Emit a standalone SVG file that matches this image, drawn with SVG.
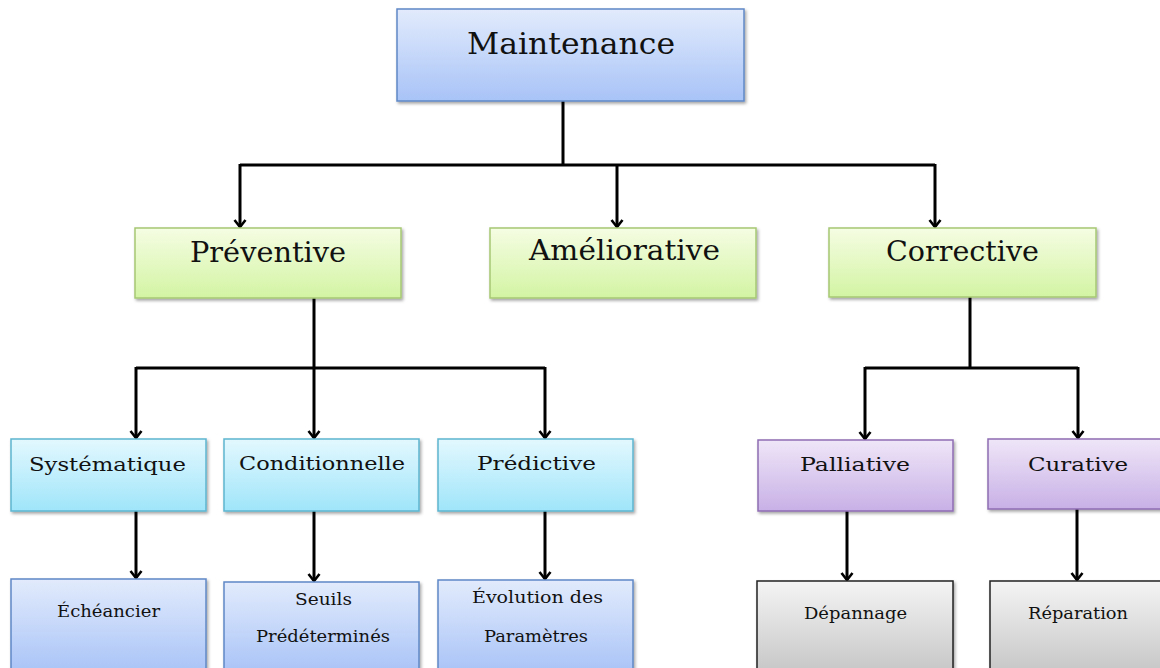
<svg xmlns="http://www.w3.org/2000/svg" width="1160" height="668" viewBox="0 0 1160 668">
<defs>
<linearGradient id="gBlue" x1="0" y1="0" x2="0" y2="1"><stop offset="0" stop-color="#e2ebfc"/><stop offset="1" stop-color="#a8c3f7"/></linearGradient>
<linearGradient id="gGreen" x1="0" y1="0" x2="0" y2="1"><stop offset="0" stop-color="#f5fde3"/><stop offset="1" stop-color="#d3f4a3"/></linearGradient>
<linearGradient id="gCyan" x1="0" y1="0" x2="0" y2="1"><stop offset="0" stop-color="#e3f8fe"/><stop offset="1" stop-color="#9fe5fa"/></linearGradient>
<linearGradient id="gPurple" x1="0" y1="0" x2="0" y2="1"><stop offset="0" stop-color="#efe6f8"/><stop offset="1" stop-color="#c8b0e6"/></linearGradient>
<linearGradient id="gGray" x1="0" y1="0" x2="0" y2="1"><stop offset="0" stop-color="#f4f4f4"/><stop offset="1" stop-color="#c6c6c6"/></linearGradient>
<filter id="sh" x="-5%" y="-5%" width="112%" height="115%"><feDropShadow dx="1.5" dy="2" stdDeviation="1.5" flood-color="#000" flood-opacity="0.35"/></filter>
<marker id="arr" viewBox="0 0 12 14" refX="10" refY="7" markerWidth="12" markerHeight="14" markerUnits="userSpaceOnUse" orient="auto">
<path d="M3,1.5 L10,7 L3,12.5" fill="none" stroke="#000" stroke-width="2.6"/>
</marker>
</defs>
<style>
text{font-family:"DejaVu Serif","Liberation Serif",serif;fill:#111;text-anchor:middle}
.blue{fill:url(#gBlue);stroke:#5f88c6;stroke-width:1.5;filter:url(#sh)}
.green{fill:url(#gGreen);stroke:#a6c874;stroke-width:1.5;filter:url(#sh)}
.cyan{fill:url(#gCyan);stroke:#5db5cf;stroke-width:1.5;filter:url(#sh)}
.purple{fill:url(#gPurple);stroke:#8e6db3;stroke-width:1.5;filter:url(#sh)}
.gray{fill:url(#gGray);stroke:#222;stroke-width:1.5;filter:url(#sh)}
.c{fill:none;stroke:#000;stroke-width:3}
.a{fill:none;stroke:#000;stroke-width:3;marker-end:url(#arr)}
</style>
<rect width="1160" height="668" fill="#fff"/>
<g id="connectors">
<path class="c" d="M563,101 V165 M240,165 H935 M314,298 V368 M136,368 H545 M970,297 V368 M865,368 H1078"/>
<path class="a" d="M240,164 V227"/>
<path class="a" d="M617,165 V227"/>
<path class="a" d="M935,164 V227"/>
<path class="a" d="M136,367 V438"/>
<path class="a" d="M314,368 V438"/>
<path class="a" d="M545,367 V438"/>
<path class="a" d="M865,367 V439"/>
<path class="a" d="M1078,367 V438"/>
<path class="a" d="M136,511 V578"/>
<path class="a" d="M314,511 V581"/>
<path class="a" d="M545,511 V579"/>
<path class="a" d="M847,511 V580"/>
<path class="a" d="M1077,509 V580"/>
</g>
<g id="maintenance"><rect class="blue" x="397" y="9" width="347" height="92"/><text x="571" y="54" font-size="30" textLength="208" lengthAdjust="spacingAndGlyphs">Maintenance</text></g>
<g id="preventive"><rect class="green" x="135" y="228" width="266" height="70"/><text x="268" y="262" font-size="27" textLength="156" lengthAdjust="spacingAndGlyphs">Préventive</text></g>
<g id="ameliorative"><rect class="green" x="490" y="228" width="266" height="70"/><text x="624.5" y="260" font-size="27" textLength="191" lengthAdjust="spacingAndGlyphs">Améliorative</text></g>
<g id="corrective"><rect class="green" x="829" y="228" width="267" height="69"/><text x="962.5" y="261" font-size="27" textLength="153" lengthAdjust="spacingAndGlyphs">Corrective</text></g>
<g id="systematique"><rect class="cyan" x="11" y="439" width="195" height="72"/><text x="107.5" y="471" font-size="19" textLength="157" lengthAdjust="spacingAndGlyphs">Systématique</text></g>
<g id="conditionnelle"><rect class="cyan" x="224" y="439" width="195" height="72"/><text x="322" y="470" font-size="19" textLength="166" lengthAdjust="spacingAndGlyphs">Conditionnelle</text></g>
<g id="predictive"><rect class="cyan" x="438" y="439" width="195" height="72"/><text x="536.5" y="470" font-size="19" textLength="119" lengthAdjust="spacingAndGlyphs">Prédictive</text></g>
<g id="palliative"><rect class="purple" x="758" y="440" width="195" height="71"/><text x="855" y="471" font-size="19" textLength="110" lengthAdjust="spacingAndGlyphs">Palliative</text></g>
<g id="curative"><rect class="purple" x="988" y="439" width="180" height="70"/><text x="1078" y="471" font-size="19" textLength="100" lengthAdjust="spacingAndGlyphs">Curative</text></g>
<g id="echeancier"><rect class="blue" x="11" y="579" width="195" height="95"/><text x="108.5" y="617" font-size="16" textLength="103" lengthAdjust="spacingAndGlyphs">Échéancier</text></g>
<g id="seuils"><rect class="blue" x="224" y="582" width="195" height="92"/><text x="323.5" y="605" font-size="16" textLength="57" lengthAdjust="spacingAndGlyphs">Seuils</text><text x="323" y="642" font-size="16" textLength="134" lengthAdjust="spacingAndGlyphs">Prédéterminés</text></g>
<g id="evolution"><rect class="blue" x="438" y="580" width="195" height="94"/><text x="537.5" y="603" font-size="16" textLength="131" lengthAdjust="spacingAndGlyphs">Évolution des</text><text x="536" y="642" font-size="16" textLength="104" lengthAdjust="spacingAndGlyphs">Paramètres</text></g>
<g id="depannage"><rect class="gray" x="757" y="581" width="196" height="93"/><text x="855.5" y="619" font-size="16" textLength="103" lengthAdjust="spacingAndGlyphs">Dépannage</text></g>
<g id="reparation"><rect class="gray" x="990" y="581" width="180" height="93"/><text x="1078" y="619" font-size="16" textLength="100" lengthAdjust="spacingAndGlyphs">Réparation</text></g>
</svg>
